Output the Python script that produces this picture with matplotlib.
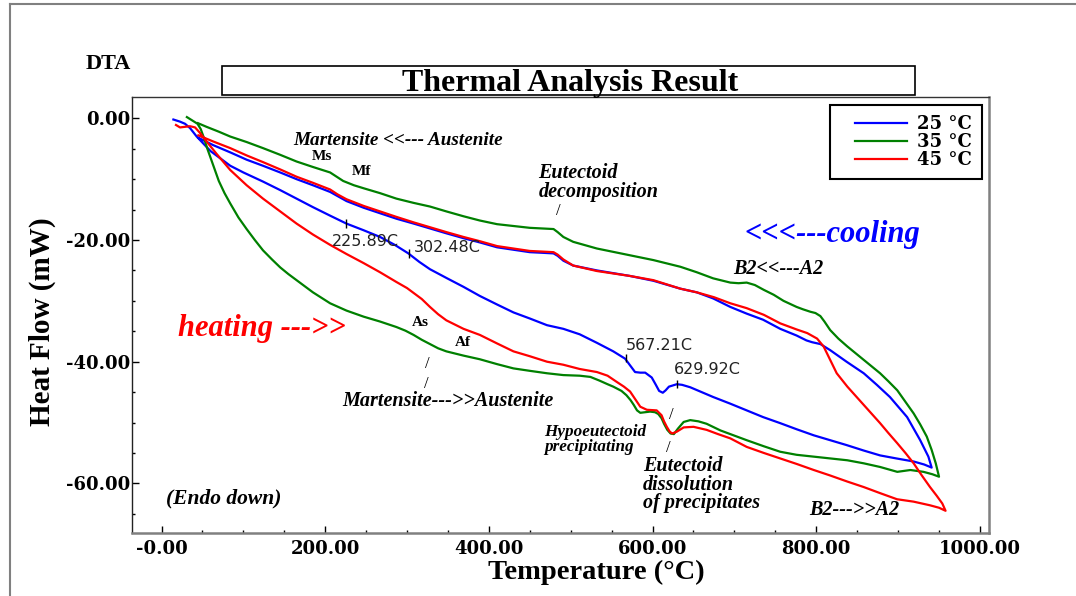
import numpy as np
import matplotlib
matplotlib.use('Agg')
import matplotlib.pyplot as plt
from matplotlib.patches import Rectangle
from matplotlib.lines import Line2D
from matplotlib.legend_handler import HandlerLine2D

# ---- data (temperature in C, heat flow in mW) ----
blue_heat_T = [14.5, 22.6, 28.7, 34.8, 43, 55, 60, 72, 84, 100, 124, 145, 165, 185, 206, 225.9,
               247, 267, 285, 301.6, 315, 328, 349, 369, 389, 410, 430, 450, 471, 491, 511, 532,
               552, 566.4, 572.5, 578.6, 585, 591, 599, 604, 608, 612.5, 616, 620, 629.6, 636,
               646, 660, 674, 695, 715, 735, 756, 776, 797, 817, 837, 858, 878, 898, 919, 932, 941]
blue_heat_H = [-0.2, -0.55, -0.9, -1.6, -3.0, -4.7, -5.4, -6.6, -7.8, -8.9, -10.4, -11.8, -13.2,
               -14.6, -16.0, -17.3, -18.4, -19.5, -20.8, -22.2, -23.6, -24.8, -26.3, -27.7, -29.2,
               -30.6, -31.9, -32.9, -34.0, -34.6, -35.5, -36.9, -38.3, -39.5, -40.6, -41.7, -41.8,
               -41.8, -42.6, -43.8, -44.8, -45.1, -44.7, -44.1, -43.7, -43.8, -44.2, -45.0, -45.8,
               -46.9, -48.0, -49.1, -50.1, -51.1, -52.1, -52.9, -53.7, -54.6, -55.4, -55.9, -56.4,
               -56.9, -57.4]
blue_cool_T = [937, 927, 911, 890, 874, 858, 837, 817, 805, 795, 788, 776, 756, 735, 715, 695, 674,
               654, 634, 601, 572, 532, 503, 491, 484, 479, 465, 450, 430, 410, 389, 369, 348, 328,
               308, 287, 267, 247, 226, 206, 185, 165, 145, 124, 104, 84, 63, 45]
blue_cool_H = [-55.6, -52.9, -49.1, -45.8, -43.8, -41.9, -40.0, -38.1, -37.1, -36.8, -36.5, -35.7,
               -34.6, -33.1, -32.1, -31.0, -29.6, -28.6, -28.0, -26.7, -25.9, -25.0, -24.2, -23.4,
               -22.6, -22.2, -22.1, -22.0, -21.6, -21.2, -20.4, -19.7, -18.9, -18.1, -17.3, -16.5,
               -15.6, -14.7, -13.6, -12.1, -11.0, -10.0, -8.9, -7.8, -6.8, -5.6, -4.4, -3.2]

green_heat_T = [31, 37, 44, 48, 52, 56, 60, 64, 70, 77, 84, 94, 104, 114, 124, 135, 145, 155, 165,
                185, 206, 226, 247, 267, 287, 298, 308, 318, 328, 338, 348, 369, 389, 410, 430, 450,
                471, 491, 511, 524, 535, 545, 552, 562, 568, 573, 577, 581, 585, 591, 597, 603, 607,
                611, 614, 618, 622, 626, 631, 638, 646, 656, 666, 683, 699, 715, 736, 756, 776, 797,
                817, 838, 858, 878, 899, 915, 931, 942, 950]
green_heat_H = [0.2, -0.3, -0.9, -1.8, -3.3, -5.0, -6.5, -8.0, -10.3, -12.3, -14.0, -16.3, -18.2,
                -20.0, -21.7, -23.2, -24.5, -25.6, -26.6, -28.6, -30.4, -31.6, -32.6, -33.4, -34.3,
                -34.9, -35.6, -36.4, -37.1, -37.8, -38.3, -39.0, -39.6, -40.4, -41.1, -41.5, -41.9,
                -42.2, -42.3, -42.5, -43.1, -43.7, -44.1, -44.8, -45.5, -46.3, -47.1, -48.0, -48.4,
                -48.3, -48.2, -48.3, -48.6, -49.3, -50.2, -51.2, -51.8, -51.9, -51.0, -49.9, -49.6,
                -49.8, -50.2, -51.3, -52.1, -52.9, -53.9, -54.8, -55.3, -55.6, -55.9, -56.2, -56.7,
                -57.3, -58.1, -57.8, -58.1, -58.5, -58.9]
green_cool_T = [946, 941, 935, 927, 919, 909, 899, 888, 878, 868, 858, 848, 838, 827, 817, 810, 805,
                799, 793, 784, 776, 760, 748, 736, 725, 715, 705, 695, 674, 654, 634, 601, 572, 532,
                503, 491, 484, 479, 465, 450, 430, 410, 389, 369, 348, 328, 308, 287, 267, 247, 235,
                222, 214, 206, 185, 165, 145, 124, 104, 84, 70, 55, 44.5]
green_cool_H = [-56.7, -54.5, -52.3, -50.3, -48.5, -46.6, -44.7, -43.2, -41.9, -40.8, -39.7, -38.6,
                -37.5, -36.2, -34.8, -33.4, -32.5, -32.0, -31.8, -31.4, -31.0, -30.0, -29.0, -28.2,
                -27.4, -27.0, -27.1, -27.0, -26.3, -25.3, -24.4, -23.3, -22.5, -21.4, -20.3, -19.5,
                -18.7, -18.2, -18.1, -18.0, -17.7, -17.4, -16.8, -16.1, -15.3, -14.5, -13.9, -13.2,
                -12.3, -11.5, -11.0, -10.3, -9.6, -8.9, -8.0, -7.1, -6.0, -4.9, -3.9, -3.0, -2.2,
                -1.4, -0.8]

red_heat_T = [17.7, 22.6, 28.7, 34.8, 41, 47, 55, 67, 84, 104, 124, 145, 165, 185, 206, 226, 247,
              267, 287, 300, 308, 318, 328, 338, 348, 369, 389, 410, 430, 450, 471, 491, 511, 532,
              545, 556, 565, 572.5, 579, 585, 593, 605, 611, 614, 617.4, 621, 624, 629.6, 638, 650,
              666, 680, 695, 715, 736, 756, 776, 797, 817, 838, 858, 878, 898.6, 919, 939, 950, 958]
red_heat_H = [-1.1, -1.5, -1.4, -1.3, -1.5, -2.4, -3.8, -5.8, -8.5, -11.0, -13.2, -15.3, -17.3,
              -19.1, -20.8, -22.3, -23.8, -25.3, -26.9, -27.9, -28.7, -29.7, -31.0, -32.2, -33.2,
              -34.6, -35.6, -37.0, -38.3, -39.1, -40.0, -40.5, -41.2, -41.7, -42.3, -43.3, -44.1,
              -44.9, -46.2, -47.4, -47.9, -48.0, -48.8, -49.8, -50.7, -51.5, -51.8, -51.5, -50.8,
              -50.7, -51.2, -51.9, -52.6, -54.0, -55.0, -55.9, -56.8, -57.8, -58.7, -59.7, -60.6,
              -61.6, -62.6, -63.0, -63.6, -64.0, -64.5]
red_cool_T = [954, 947, 939, 929, 919, 909, 899, 888, 878, 868, 858, 848, 838, 825, 817, 809, 801,
              789, 776, 756, 736, 715, 695, 675, 654, 634, 601, 572, 532, 503, 491, 484, 479, 465,
              450, 430, 410, 389, 369, 348, 328, 308, 287, 267, 247, 226, 215, 206, 185, 165, 145,
              124, 104, 84, 63, 45]
red_cool_H = [-63.3, -62.0, -60.6, -58.7, -56.7, -55.0, -53.4, -51.7, -50.1, -48.6, -47.1, -45.6,
              -44.1, -41.9, -39.7, -37.5, -36.2, -35.3, -34.7, -33.7, -32.3, -31.2, -30.4, -29.4,
              -28.6, -28.0, -26.6, -25.9, -25.1, -24.2, -23.2, -22.4, -22.0, -21.9, -21.8, -21.4,
              -21.0, -20.2, -19.5, -18.7, -17.9, -17.1, -16.2, -15.3, -14.4, -13.3, -12.5, -11.7,
              -10.6, -9.6, -8.4, -7.2, -6.1, -4.9, -3.8, -2.8]

series_labels = ['25 \u00b0C', '35 \u00b0C', '45 \u00b0C']
series_colors = ['#0000ff', '#008000', '#ff0000']

peak_T = [225.89, 302.48, 567.21, 629.92]
peak_H = [-17.3, -22.2, -39.4, -43.7]
peak_text = ['225.89C', '302.48C', '567.21C', '629.92C']

xticks = [0, 200, 400, 600, 800, 1000]
xtick_labels = ['-0.00', '200.00', '400.00', '600.00', '800.00', '1000.00']
yticks = [0, -20, -40, -60]
ytick_labels = ['0.00', '-20.00', '-40.00', '-60.00']

# ---- figure ----
W, H = 1076, 596
fig = plt.figure(figsize=(W / 100, H / 100), dpi=100)


def fx(px):
    return px / W


def fy(py):
    return 1 - py / H


SERIF = 'Liberation Serif'
WIDE = 'DejaVu Serif'

ax = fig.add_axes([fx(132.3), fy(533.3), fx(988.7) - fx(132.3), fy(96.7) - fy(533.3)])

curves = [(blue_heat_T + blue_cool_T, blue_heat_H + blue_cool_H),
          (green_heat_T + green_cool_T, green_heat_H + green_cool_H),
          (red_heat_T + red_cool_T, red_heat_H + red_cool_H)]
for (t, h), lab, col in zip(curves, series_labels, series_colors):
    ax.plot(t, h, color=col, lw=1.6, label=lab, solid_joinstyle='round')

ax.set_xlim(-35.7, 1010.7)
ax.set_ylim(-68.2, 3.55)

ax.set_xticks(xticks)
ax.set_xticklabels(xtick_labels)
ax.set_yticks(yticks)
ax.set_yticklabels(ytick_labels)
ax.set_xticks(np.arange(-0, 1001, 50), minor=True)
ax.set_yticks(np.arange(-65, 1, 5), minor=True)
ax.tick_params(which='major', direction='in', length=5, width=1, color='black')
ax.tick_params(which='minor', direction='in', length=2.5, width=1, color='black')
ax.tick_params(axis='x', which='major', pad=5)
ax.tick_params(axis='y', which='major', pad=1.6)
for lbl in ax.get_xticklabels() + ax.get_yticklabels():
    lbl.set_fontfamily(WIDE)
    lbl.set_fontweight('bold')
    lbl.set_fontsize(13)

ax.spines['left'].set_color('#222222')
ax.spines['top'].set_color('#333333')
ax.spines['left'].set_linewidth(1)
ax.spines['top'].set_linewidth(1)
ax.spines['bottom'].set_color('#808080')
ax.spines['right'].set_color('#808080')
ax.spines['bottom'].set_linewidth(1.8)
ax.spines['right'].set_linewidth(1.8)

# peak markers
ax.vlines(peak_T, np.array(peak_H) - 0.7, np.array(peak_H) + 0.7, color='black', lw=1)
peak_pos = [(208, -20.2), (308.5, -21.2), (567.2, -37.4), (626.6, -41.3)]
for (px, py), s in zip(peak_pos, peak_text):
    ax.text(px, py, s, fontsize=11.5, family='DejaVu Sans', color='#222222',
            ha='left', va='center')

# annotations
bi = dict(family=SERIF, weight='bold', style='italic', color='black')
bd = dict(family=SERIF, weight='bold', color='black')
ax.text(289.6, -3.6, 'Martensite <<--- Austenite', fontsize=13.8, ha='center', va='center', **bi)
ax.text(195.7, -6.2, 'Ms', fontsize=11, ha='center', va='center', **bd)
ax.text(244, -8.8, 'Mf', fontsize=11, ha='center', va='center', **bd)
ax.text(460.4, -10.6, 'Eutectoid\ndecomposition', fontsize=14.5, ha='left', va='center',
        linespacing=0.95, **bi)
ax.text(484.5, -15.2, '/', fontsize=12, ha='center', va='center', family=SERIF)
ax.text(819.8, -20.3, '<<<---cooling', fontsize=22, ha='center', va='baseline',
        family=SERIF, weight='bold', style='italic', color='#0000ff')
ax.text(698.7, -24.8, 'B2<<---A2', fontsize=14.5, ha='left', va='center', **bi)
ax.text(20.5, -35.8, 'heating --->>', fontsize=22, ha='left', va='baseline',
        family=SERIF, weight='bold', style='italic', color='#ff0000')
ax.text(315.9, -33.6, 'As', fontsize=11, ha='center', va='center', **bd)
ax.text(367.8, -36.9, 'Af', fontsize=11, ha='center', va='center', **bd)
ax.text(325, -40.4, '/', fontsize=12, ha='center', va='center', family=SERIF)
ax.text(323, -43.7, '/', fontsize=12, ha='center', va='center', family=SERIF)
ax.text(349.5, -46.4, 'Martensite--->>Austenite', fontsize=14.5, ha='center', va='center', **bi)
ax.text(75.5, -62.4, '(Endo down)', fontsize=15.5, ha='center', va='center', **bi)
ax.text(468, -52.8, 'Hypoeutectoid\nprecipitating', fontsize=12.3, ha='left', va='center',
        linespacing=0.85, **bi)
ax.text(623, -48.8, '/', fontsize=12, ha='center', va='center', family=SERIF)
ax.text(619, -54.2, '/', fontsize=12, ha='center', va='center', family=SERIF)
ax.text(588, -60.2, 'Eutectoid\ndissolution\nof precipitates', fontsize=14.5, ha='left',
        va='center', linespacing=0.9, **bi)
ax.text(791.5, -64.3, 'B2--->>A2', fontsize=14.5, ha='left', va='center', **bi)

# legend
leg = ax.legend(loc='upper right', bbox_to_anchor=(0.9918, 0.981), borderaxespad=0,
                prop={'family': WIDE, 'weight': 'bold', 'size': 13}, fancybox=False,
                edgecolor='black', framealpha=1, handlelength=3.7, handletextpad=0.55,
                labelspacing=0.0, borderpad=0.55,
                handler_map={Line2D: HandlerLine2D(xpad=0.82)})
leg.get_frame().set_linewidth(1.5)

# title box, labels, outer frame
fig.add_artist(Rectangle((fx(222.3), fy(95)), fx(915.4) - fx(222.3), fy(65.7) - fy(95),
                         transform=fig.transFigure, fill=False, edgecolor='black', lw=1.2))
fig.text(fx(570.5), fy(90.7), 'Thermal Analysis Result', family=SERIF, weight='bold',
         fontsize=23, ha='center', va='baseline')
fig.text(fx(86), fy(69.3), 'DTA', family=SERIF, weight='bold', fontsize=16,
         ha='left', va='baseline')
fig.text(fx(596.3), fy(579.3), 'Temperature (\u00b0C)', family=SERIF, weight='bold',
         fontsize=20.5, ha='center', va='baseline')
fig.text(fx(50), fy(322), 'Heat Flow (mW)', family=SERIF, weight='bold', fontsize=21,
         rotation=90, rotation_mode='anchor', ha='center', va='baseline')
fig.add_artist(Line2D([fx(10), 1], [fy(4), fy(4)], transform=fig.transFigure,
                      color='#808080', lw=1.5))
fig.add_artist(Line2D([fx(10), fx(10)], [fy(4), 0], transform=fig.transFigure,
                      color='#808080', lw=1.5))

fig.savefig('out.png', dpi=100)
